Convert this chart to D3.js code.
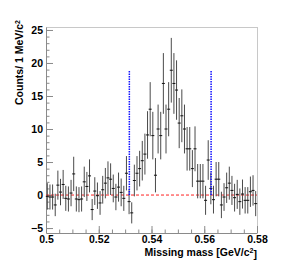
<!DOCTYPE html>
<html>
<head>
<meta charset="utf-8">
<script src="https://cdn.jsdelivr.net/npm/d3@7"></script>
<style>
    body { margin: 0; background: #fff; }
    text { font-family: "Liberation Sans", Arial, sans-serif; font-weight: bold; }
</style>
</head>
<body>
<script>
// histogram: 1 MeV/c^2 bins from 0.50 to 0.58 GeV/c^2
let massLow = 0.5;
let binWidth = 0.001;

let counts = [
    -0.2, -0.3, -0.3, -1.5, 1.5, 0.45, 1.6, -0.5, -0.6, 0.3,
    3.2, -0.6, -0.7, -0.6, 2.0, 1.3, 2.9, -2.2, 0.6, -0.1,
    -1.2, 0.8, 1.8, 2.6, 2.4, 1.0, -0.3, 1.2, 0.4, -0.5,
    3.3, -1.0, -2.7, 2.2, 3.3, 4.0, 5.2, 6.2, 9.1, 13.0,
    9.0, 3.0, 10.0, 9.0, 16.9, 10.0, 13.0, 18.9, 16.9, 15.9,
    10.9, 12.0, 10.0, 7.0, 7.0, 4.0, 7.0, 2.1, 2.1, 2.1,
    -0.8, 5.3, 1.0, -0.7, 2.4, 2.4, -1.5, -0.3, 1.1, 1.8,
    0.7, -0.4, 0.1, -1.0, 0.15, -0.8, -0.8, 0.5, 0.7, -1.3
];

let errors = [
    2.0, 1.9, 1.9, 1.7, 2.2, 2.0, 2.2, 1.9, 1.9, 2.0,
    2.6, 1.9, 1.9, 1.9, 2.3, 2.2, 2.5, 1.6, 2.1, 2.0,
    1.8, 2.1, 2.3, 2.5, 2.4, 2.1, 2.0, 2.2, 2.1, 1.9,
    2.6, 1.9, 1.6, 2.4, 2.6, 2.7, 3.0, 3.1, 3.6, 4.1,
    3.6, 2.6, 3.7, 3.6, 4.6, 3.7, 4.1, 4.9, 4.6, 4.5,
    3.8, 4.0, 3.7, 3.3, 3.3, 2.8, 3.4, 2.6, 2.6, 2.6,
    2.2, 3.0, 2.4, 2.1, 2.6, 2.6, 2.0, 2.1, 2.3, 2.5,
    2.2, 2.1, 2.2, 2.0, 2.2, 2.0, 2.0, 2.3, 2.3, 1.9
];

// signal window (blue) and zero level (red)
let windowCuts = [0.5316, 0.5626];
let windowHeight = 18.9;
let zeroLevel = 0;

let xTicks = [0.5, 0.52, 0.54, 0.56, 0.58];
let yTicks = [-5, 0, 5, 10, 15, 20, 25];
let xDomain = [0.5, 0.58];
let yDomain = [-5.75, 25.45];

let svgWidth = 286,
    svgHeight = 278,
    margin = {top: 27, right: 29, bottom: 45, left: 46};

let plotW = svgWidth - margin.left - margin.right,
    plotH = svgHeight - margin.top - margin.bottom;

let svg = d3.select("body").append("svg")
    .attr("width", svgWidth)
    .attr("height", svgHeight);

let g = svg.append("g")
    .attr("transform", "translate(" + margin.left + "," + margin.top + ")");

let x = d3.scaleLinear().domain(xDomain).range([0, plotW]);
let y = d3.scaleLinear().domain(yDomain).range([plotH, 0]);

// frame top / right
g.append("line").attr("x1", 0).attr("x2", plotW).attr("y1", 0.5).attr("y2", 0.5)
    .attr("stroke", "#c8c8c8");
g.append("line").attr("x1", plotW + 0.5).attr("x2", plotW + 0.5).attr("y1", 0).attr("y2", plotH)
    .attr("stroke", "#c8c8c8");

// minor ticks
let xMinor = d3.range(0, 17).map(i => 0.5 + i * 0.005);
let yMinor = d3.range(-5, 26);

function styleAxis(sel) {
    sel.selectAll("line").attr("stroke", "#8a8a8a");
    sel.selectAll("path").attr("stroke", "#8a8a8a");
    sel.selectAll("text").attr("fill", "#000").style("font-size", "10.5px");
}

g.append("g")
    .call(d3.axisLeft(y).tickValues(yMinor).tickFormat("").tickSize(-3.5))
    .call(sel => sel.select("path").remove())
    .call(styleAxis);

g.append("g")
    .attr("transform", "translate(0," + plotH + ")")
    .call(d3.axisBottom(x).tickValues(xMinor).tickFormat("").tickSize(-3.5))
    .call(sel => sel.select("path").remove())
    .call(styleAxis);

// major ticks + labels
g.append("g")
    .call(d3.axisLeft(y).tickValues(yTicks).tickFormat(d3.format("d")).tickSizeInner(-7).tickSizeOuter(0).tickPadding(3))
    .call(styleAxis);

g.append("g")
    .attr("transform", "translate(0," + plotH + ")")
    .call(d3.axisBottom(x).tickValues(xTicks).tickFormat(d => String(+d.toFixed(2))).tickSizeInner(-7).tickSizeOuter(0).tickPadding(3))
    .call(styleAxis);

// zero line
g.append("line")
    .attr("x1", x(xDomain[0])).attr("x2", x(xDomain[1]))
    .attr("y1", y(zeroLevel)).attr("y2", y(zeroLevel))
    .attr("stroke", "#ff2020")
    .attr("stroke-width", 1)
    .attr("stroke-dasharray", "3,2");

// data points
let points = counts.map((v, i) => ({
    x: massLow + (i + 0.5) * binWidth,
    y: v,
    e: errors[i]
}));

let pts = g.append("g");
points.forEach(p => {
    pts.append("line")
        .attr("x1", x(p.x)).attr("x2", x(p.x))
        .attr("y1", y(p.y - p.e)).attr("y2", y(p.y + p.e))
        .attr("stroke", "#4a4a4a")
        .attr("stroke-width", 1);
    pts.append("line")
        .attr("x1", x(p.x) - 1.5).attr("x2", x(p.x) + 1.5)
        .attr("y1", y(p.y)).attr("y2", y(p.y))
        .attr("stroke", "#111")
        .attr("stroke-width", 1);
});

// signal window
windowCuts.forEach(c => {
    g.append("line")
        .attr("x1", x(c)).attr("x2", x(c))
        .attr("y1", y(zeroLevel)).attr("y2", y(windowHeight))
        .attr("stroke", "#1010ff")
        .attr("stroke-width", 1.5)
        .attr("stroke-dasharray", "1.5,1");
});

// axis titles
svg.append("text")
    .attr("x", margin.left + plotW)
    .attr("y", 256)
    .attr("text-anchor", "end")
    .style("font-size", "10.5px")
    .text("Missing mass [GeV/c")
    .append("tspan").attr("dy", "-0.45em").style("font-size", "7px").text("2")
    .select(function() { return this.parentNode; })
    .append("tspan").attr("dy", "0.45em").text("]");

svg.append("text")
    .attr("transform", "translate(23,20) rotate(-90)")
    .attr("text-anchor", "end")
    .style("font-size", "10.5px")
    .text("Counts/ 1 MeV/c")
    .append("tspan").attr("dy", "-0.45em").style("font-size", "7px").text("2");
</script>
</body>
</html>
